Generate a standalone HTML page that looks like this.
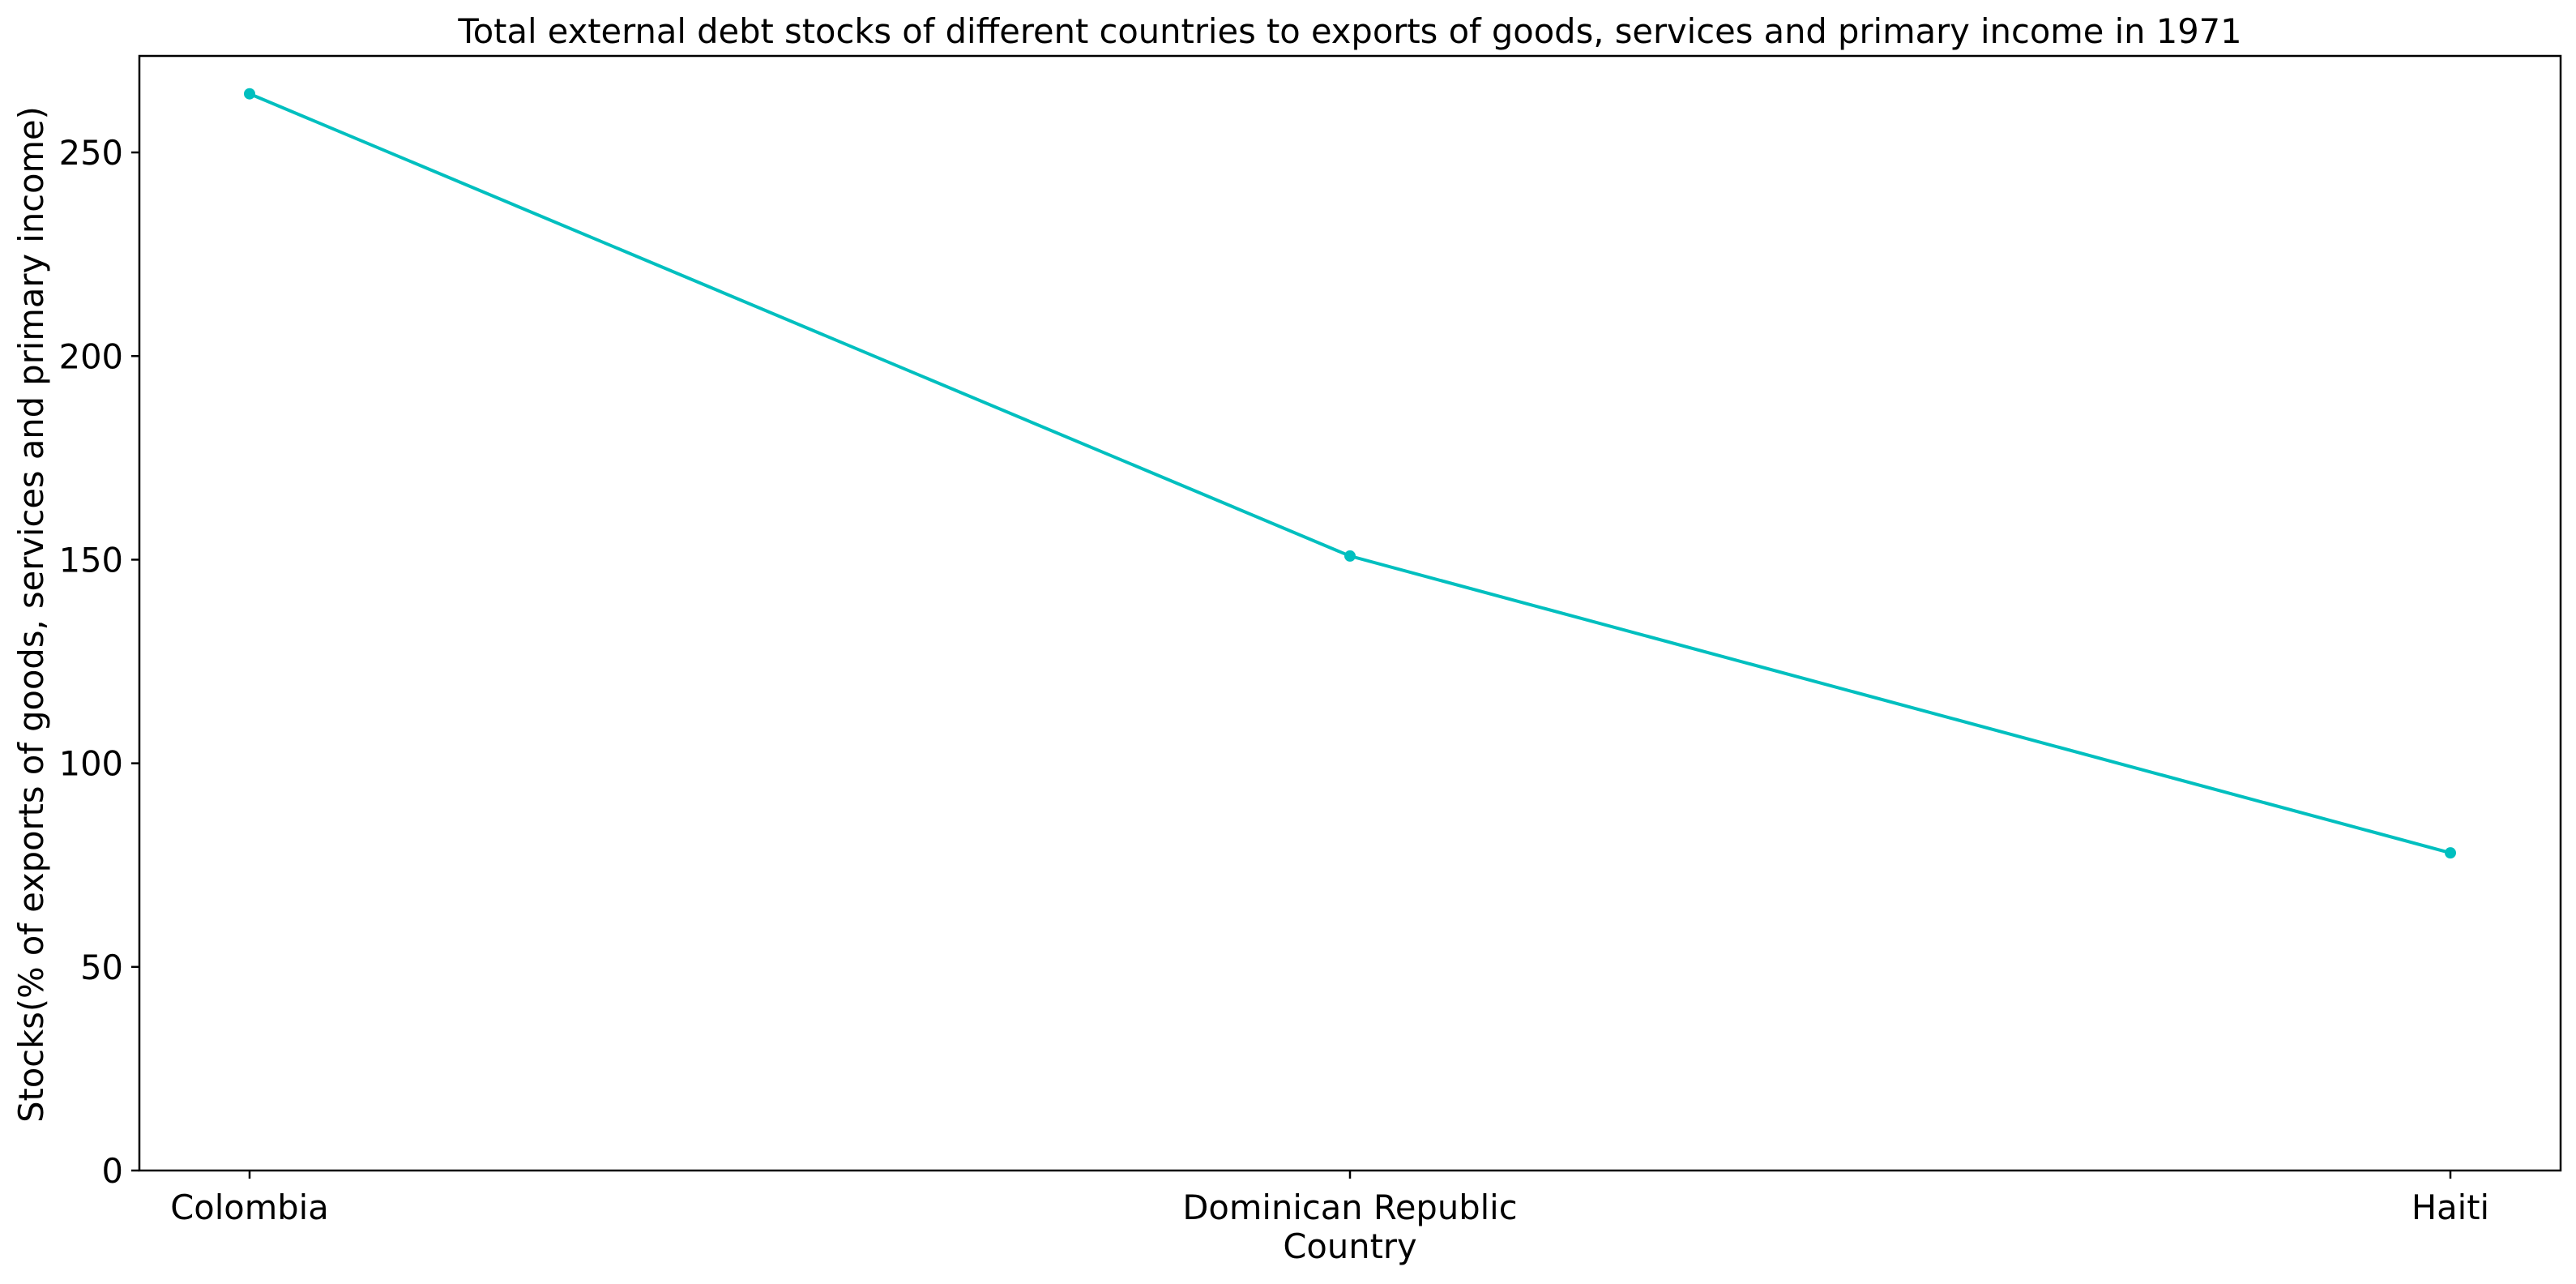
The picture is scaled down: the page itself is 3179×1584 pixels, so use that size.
<!DOCTYPE html>
<html><head><meta charset="utf-8"><style>
html,body{margin:0;padding:0;background:#fff;}
svg text{font-family:"DejaVu Sans","Liberation Sans",sans-serif;fill:#000;}
</style></head><body>
<svg id="chart" width="3179" height="1579" xmlns="http://www.w3.org/2000/svg">
<rect width="3179" height="1579" fill="#fff"/>
<text x="1666" y="53" font-size="41.6" text-anchor="middle">Total external debt stocks of different countries to exports of goods, services and primary income in 1971</text>
<g id="yticks"></g><g id="xticks"></g>
<g id="series"></g>
<rect x="172" y="69" width="2988" height="1375" fill="none" stroke="#000" stroke-width="2.5"/>
<text x="1666" y="1552" font-size="41.6" text-anchor="middle">Country</text>
<text transform="translate(53,758) rotate(-90)" font-size="41.6" text-anchor="middle">Stocks(% of exports of goods, services and primary income)</text>
</svg>
<script>
const categories = ["Colombia", "Dominican Republic", "Haiti"];
const values = [264.4, 150.9, 78.0];
const yTicks = [0, 50, 100, 150, 200, 250];

const NS = "http://www.w3.org/2000/svg";
const X0 = 172, X1 = 3160, Y0 = 1444, Y1 = 69;
const yMax = 273.7;
function xPos(i){ return 308 + i * (3024 - 308) / (categories.length - 1); }
function yPos(v){ return Y0 - v / yMax * (Y0 - Y1); }
function mk(tag, attrs, parent){ const e = document.createElementNS(NS, tag); for (const k in attrs) e.setAttribute(k, attrs[k]); parent.appendChild(e); return e; }

const yt = document.getElementById('yticks');
yTicks.forEach(v => {
  const y = yPos(v);
  const l = mk('line', {x1: X0 - 10, x2: X0, y1: y, y2: y, stroke: '#000', 'stroke-width': 2.5}, yt);
  
  
  const t = mk('text', {x: X0 - 20, y: y + 15, 'font-size': 41.6, 'text-anchor': 'end'}, yt);
  t.textContent = v;
  
  
});
const xt = document.getElementById('xticks');
categories.forEach((c, i) => {
  const x = xPos(i);
  const l = mk('line', {x1: x, x2: x, y1: Y0, y2: Y0 + 10, stroke: '#000', 'stroke-width': 2.5}, xt);
  
  
  const t = mk('text', {x: x, y: Y0 + 60, 'font-size': 41.6, 'text-anchor': 'middle'}, xt);
  t.textContent = c;
  
  
});
const sg = document.getElementById('series');
const pts = values.map((v, i) => xPos(i) + ',' + yPos(v)).join(' ');
const pl = mk('polyline', {points: pts, fill: 'none', stroke: '#00BFBF', 'stroke-width': 4}, sg);


values.forEach((v, i) => {
  const c = mk('circle', {cx: xPos(i), cy: yPos(v), r: 7, fill: '#00BFBF'}, sg);
  
  
});
</script>
</body></html>
